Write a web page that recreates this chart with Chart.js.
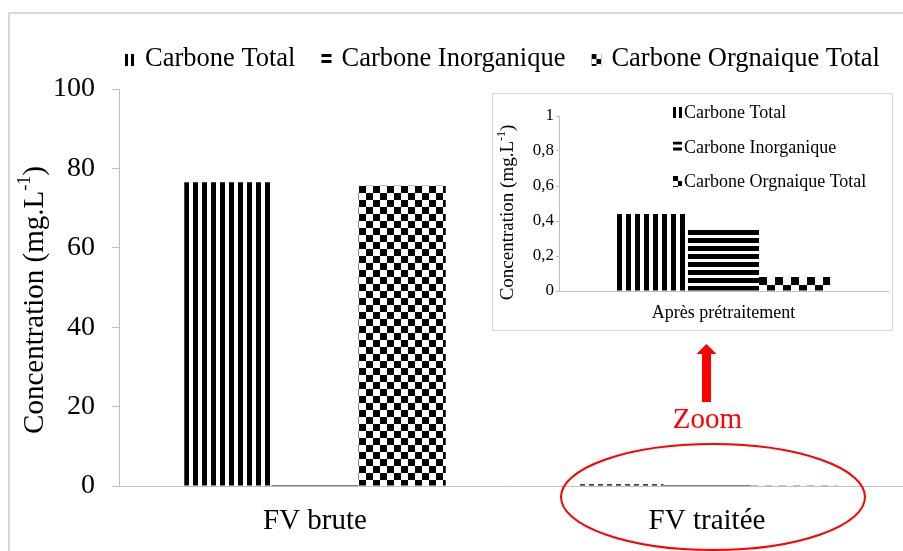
<!DOCTYPE html>
<html>
<head>
<meta charset="utf-8">
<script src="https://cdn.jsdelivr.net/npm/chart.js@4.4.1/dist/chart.umd.min.js"></script>
<style>
  body { margin: 0; background: #fff; }
  #wrap { position: relative; width: 903px; height: 551px; overflow: hidden; }
  #main { position: absolute; left: 0; top: 0; }
  #zoom { position: absolute; left: 492px; top: 93px; }
</style>
</head>
<body>
<div id="wrap">
  <canvas id="main" width="903" height="551"></canvas>
  <canvas id="zoom" width="401" height="238"></canvas>
</div>
<script>
// données
const categories = ['FV brute', 'FV traitée'];
const seriesNames = ['Carbone Total', 'Carbone Inorganique', 'Carbone Orgnaique Total'];
const carboneTotal = [76.5, 0.44];
const carboneInorganique = [0.3, 0.35];
const carboneOrganique = [75.6, 0.08];
const yTicksMain = [0, 20, 40, 60, 80, 100];

const zoomCategory = ['Après prétraitement'];
const zoomTotal = [0.44];
const zoomInorganique = [0.35];
const zoomOrganique = [0.08];
const yTicksZoom = [0, 0.2, 0.4, 0.6, 0.8, 1];

const serif = '"Liberation Serif", "Times New Roman", serif';

// motifs noir et blanc
function makePattern(kind, size, ink) {
  const c = document.createElement('canvas');
  const g = c.getContext('2d');
  if (kind === 'vertical') {
    c.width = size; c.height = 2;
  } else if (kind === 'horizontal') {
    c.width = 2; c.height = size;
  } else {
    c.width = size * 2; c.height = size * 2;
  }
  g.fillStyle = '#fff';
  g.fillRect(0, 0, c.width, c.height);
  g.fillStyle = '#000';
  if (kind === 'vertical') g.fillRect(0, 0, ink, 2);
  else if (kind === 'horizontal') g.fillRect(0, 0, 2, ink);
  else { g.fillRect(0, 0, size, size); g.fillRect(size, size, size, size); }
  return g.createPattern(c, 'repeat');
}

const mainPatterns = [makePattern('vertical', 9, 5), makePattern('horizontal', 8, 5), makePattern('checker', 7)];
const zoomPatterns = [makePattern('vertical', 9, 5), makePattern('horizontal', 8, 5), makePattern('checker', 8)];
const keyPatterns = [makePattern('vertical', 6, 3), makePattern('horizontal', 6, 3), makePattern('checker', 5)];

// aligne le motif sur le coin de la première barre
const alignPatterns = {
  id: 'alignPatterns',
  beforeDatasetDraw(chart, args) {
    const el = args.meta.data[0];
    const p = chart.data.datasets[args.index].backgroundColor;
    if (el && p && p.setTransform) {
      p.setTransform(new DOMMatrix().translate(Math.round(el.x - el.width / 2), Math.round(el.y)));
    }
  }
};

function drawKey(ctx, o) {
  ctx.save();
  ctx.font = o.size + 'px ' + serif;
  ctx.fillStyle = '#000';
  ctx.textBaseline = 'alphabetic';
  ctx.textAlign = 'left';
  let x = o.x, y = o.y;
  seriesNames.forEach((name, i) => {
    const p = keyPatterns[i];
    p.setTransform(new DOMMatrix().translate(x, y - o.boxH));
    ctx.fillStyle = p;
    ctx.fillRect(x, y - o.boxH, o.boxW, o.boxH);
    ctx.fillStyle = '#000';
    ctx.fillText(name, x + o.boxW + o.gap, y);
    if (o.step) {
      y += o.step;
    } else {
      x += o.boxW + o.gap + ctx.measureText(name).width + o.itemGap;
    }
  });
  ctx.restore();
}

function drawYTitle(ctx, cx, cy, size) {
  const a = 'Concentration (mg.L', sup = '-1', b = ')';
  ctx.save();
  ctx.font = size + 'px ' + serif;
  const wa = ctx.measureText(a).width, wb = ctx.measureText(b).width;
  ctx.font = Math.round(size * 0.62) + 'px ' + serif;
  const ws = ctx.measureText(sup).width;
  ctx.translate(cx, cy);
  ctx.rotate(-Math.PI / 2);
  ctx.fillStyle = '#000';
  ctx.textBaseline = 'middle';
  ctx.textAlign = 'left';
  let sx = -(wa + ws + wb) / 2;
  ctx.font = size + 'px ' + serif;
  ctx.fillText(a, sx, 0);
  ctx.font = Math.round(size * 0.62) + 'px ' + serif;
  ctx.fillText(sup, sx + wa, -size * 0.32);
  ctx.font = size + 'px ' + serif;
  ctx.fillText(b, sx + wa + ws, 0);
  ctx.restore();
}

const mainDecor = {
  id: 'mainDecor',
  beforeDraw(chart) {
    const ctx = chart.ctx;
    ctx.save();
    ctx.fillStyle = '#fff';
    ctx.fillRect(0, 0, chart.width, chart.height);
    ctx.strokeStyle = '#d9d9d9';
    ctx.lineWidth = 2;
    ctx.beginPath();
    ctx.moveTo(9, chart.height);
    ctx.lineTo(9, 13);
    ctx.lineTo(chart.width, 13);
    ctx.stroke();
    ctx.restore();
  },
  afterDraw(chart) {
    const { ctx, chartArea } = chart;
    drawKey(ctx, { x: 125, y: 66, size: 26.5, boxW: 10, boxH: 12, gap: 10, itemGap: 26 });
    drawYTitle(ctx, 35, 300, 29);

    // ellipse + flèche "Zoom" autour de FV traitée
    const cx = chart.scales.x.getPixelForValue(1) + 6;
    const cy = chartArea.bottom + 11;
    ctx.save();
    ctx.strokeStyle = '#ff0000';
    ctx.fillStyle = '#ff0000';
    ctx.lineWidth = 2;
    ctx.beginPath();
    ctx.ellipse(cx, cy, 152, 53, 0, 0, Math.PI * 2);
    ctx.stroke();
    const ax = cx - 6.5;
    ctx.fillRect(ax - 4.5, 353, 9, 49);
    ctx.beginPath();
    ctx.moveTo(ax, 344);
    ctx.lineTo(ax + 10, 354);
    ctx.lineTo(ax - 10, 354);
    ctx.closePath();
    ctx.fill();
    ctx.font = '29px ' + serif;
    ctx.textAlign = 'center';
    ctx.textBaseline = 'alphabetic';
    ctx.fillText('Zoom', cx - 5.5, 428);
    ctx.restore();
  }
};

const zoomDecor = {
  id: 'zoomDecor',
  beforeDraw(chart) {
    const ctx = chart.ctx;
    ctx.save();
    ctx.fillStyle = '#fff';
    ctx.fillRect(0, 0, chart.width, chart.height);
    ctx.strokeStyle = '#d9d9d9';
    ctx.lineWidth = 1;
    ctx.strokeRect(0.5, 0.5, chart.width - 1, chart.height - 1);
    ctx.restore();
  },
  afterDraw(chart) {
    drawKey(chart.ctx, { x: 181, y: 25, size: 18, boxW: 9, boxH: 11, gap: 2, step: 34.5 });
    drawYTitle(chart.ctx, 16, 119.5, 19);
  }
};

const ctxMain = document.getElementById('main');
new Chart(ctxMain, {
  type: 'bar',
  data: {
    labels: categories,
    datasets: [
      { label: seriesNames[0], data: carboneTotal, backgroundColor: mainPatterns[0] },
      { label: seriesNames[1], data: carboneInorganique, backgroundColor: mainPatterns[1] },
      { label: seriesNames[2], data: carboneOrganique, backgroundColor: mainPatterns[2] }
    ]
  },
  options: {
    responsive: false,
    animation: false,
    events: [],
    categoryPercentage: 0.667,
    barPercentage: 1,
    layout: { padding: { top: 89, right: 0, bottom: 0, left: 0 } },
    plugins: { legend: { display: false }, tooltip: { enabled: false } },
    scales: {
      x: {
        grid: { display: false, drawTicks: false },
        border: { display: true, color: '#bfbfbf', width: 1 },
        ticks: { color: '#000', font: { family: serif, size: 29 }, padding: 18 },
        afterFit(s) { s.height = 65; }
      },
      y: {
        min: yTicksMain[0],
        max: yTicksMain[yTicksMain.length - 1],
        afterBuildTicks(s) { s.ticks = yTicksMain.map(v => ({ value: v })); },
        grid: { drawOnChartArea: false, tickLength: 7, color: '#bfbfbf' },
        border: { color: '#bfbfbf', width: 1 },
        ticks: { color: '#000', font: { family: serif, size: 28 }, padding: 17 },
        afterFit(s) { s.width = 119; }
      }
    }
  },
  plugins: [alignPatterns, mainDecor]
});

const ctxZoom = document.getElementById('zoom');
new Chart(ctxZoom, {
  type: 'bar',
  data: {
    labels: zoomCategory,
    datasets: [
      { label: seriesNames[0], data: zoomTotal, backgroundColor: zoomPatterns[0] },
      { label: seriesNames[1], data: zoomInorganique, backgroundColor: zoomPatterns[1] },
      { label: seriesNames[2], data: zoomOrganique, backgroundColor: zoomPatterns[2] }
    ]
  },
  options: {
    responsive: false,
    animation: false,
    events: [],
    categoryPercentage: 0.648,
    barPercentage: 1,
    layout: { padding: { top: 23, right: 5, bottom: 0, left: 0 } },
    plugins: { legend: { display: false }, tooltip: { enabled: false } },
    scales: {
      x: {
        grid: { display: false, drawTicks: false },
        border: { display: true, color: '#bfbfbf', width: 1 },
        ticks: { color: '#000', font: { family: serif, size: 18 }, padding: 11 },
        afterFit(s) { s.height = 40; }
      },
      y: {
        min: yTicksZoom[0],
        max: yTicksZoom[yTicksZoom.length - 1],
        afterBuildTicks(s) { s.ticks = yTicksZoom.map(v => ({ value: v })); },
        grid: { drawOnChartArea: false, tickLength: 3, color: '#bfbfbf' },
        border: { color: '#bfbfbf', width: 1 },
        ticks: {
          color: '#000', font: { family: serif, size: 17 }, padding: 2,
          callback: v => String(Number(v.toFixed(1))).replace('.', ',')
        },
        afterFit(s) { s.width = 67; }
      }
    }
  },
  plugins: [alignPatterns, zoomDecor]
});
</script>
</body>
</html>
